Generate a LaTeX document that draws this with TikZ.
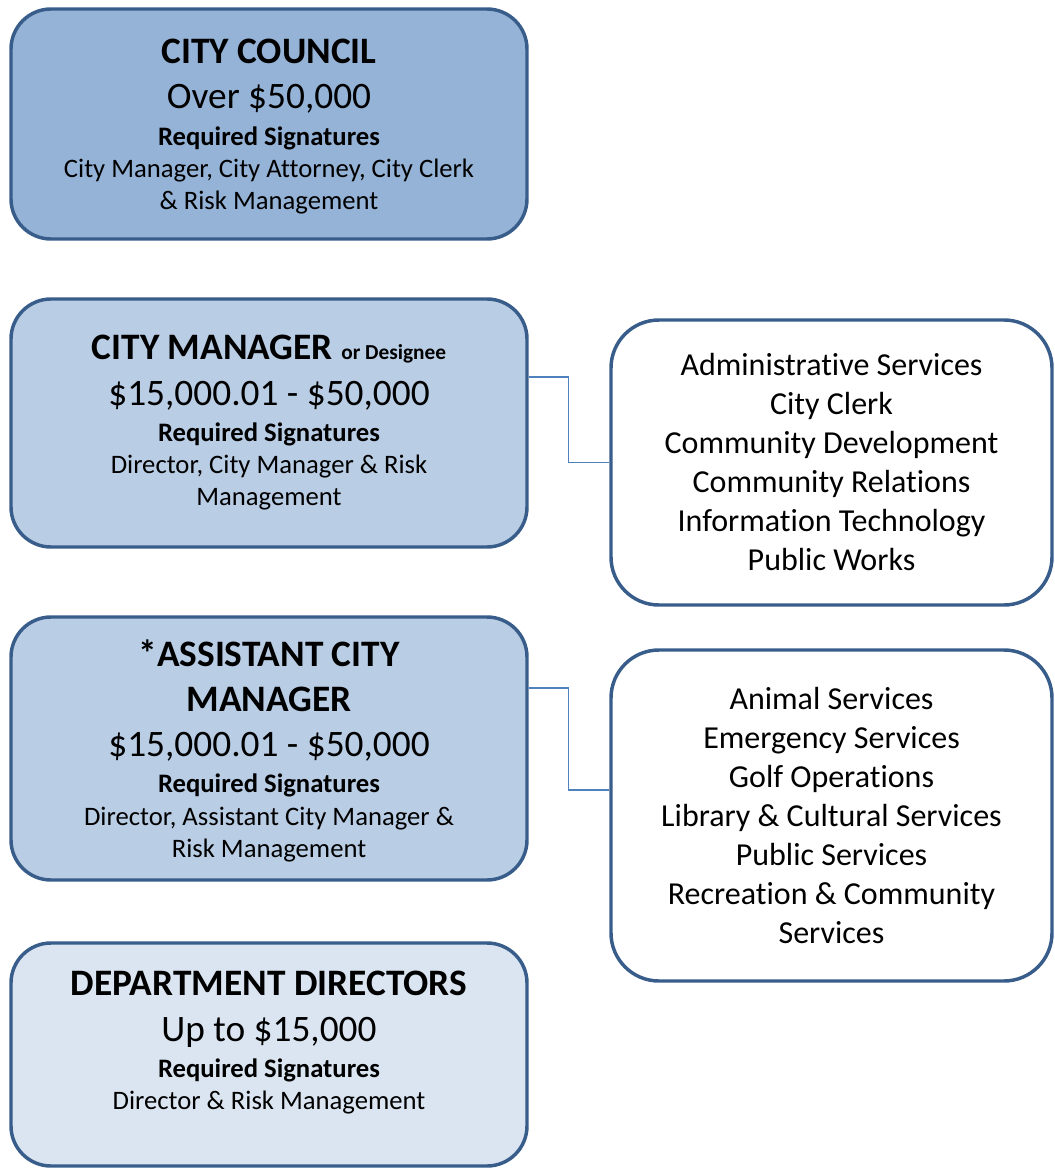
\documentclass[tikz,border=0pt]{standalone}
\usepackage{fontspec}
\setmainfont{Carlito}[Ligatures=NoCommon]
\usepackage{tikz}
\usetikzlibrary{positioning}
\definecolor{council}{RGB}{149,179,215}
\definecolor{manager}{RGB}{185,205,229}
\definecolor{director}{RGB}{219,229,241}
\definecolor{outline}{RGB}{56,93,138}
\definecolor{connector}{RGB}{79,129,189}
\tikzset{
    tierbox/.style={rectangle, rounded corners=30pt, minimum width=387pt, text centered, draw=outline, line width=2.6pt, align=center, font=\fontsize{20}{24}\selectfont},
    deptbox/.style={rectangle, rounded corners=36pt, minimum width=330.75pt, text centered, draw=outline, line width=2.6pt, fill=white, align=center, font=\fontsize{24}{29.25}\selectfont},
    link/.style={draw=connector, line width=1.1pt}
}

\begin{document}
\begin{tikzpicture}[x=0.75pt, y=-0.75pt]
    \useasboundingbox (0,0) rectangle (1055,1170);

    % Approval tiers
    \node[tierbox, fill=council, minimum height=172.5pt, text depth=-2pt] (council) at (269,124) {%
        {\fontsize{28}{34}\selectfont\bfseries CITY COUNCIL}\\[10pt]
        {\fontsize{28}{34}\selectfont Over \$50,000}\\[3.5pt]
        \textbf{Required Signatures}\\
        City Manager, City Attorney, City Clerk\\
        \& Risk Management%
    };
    \node[tierbox, fill=manager, minimum height=186pt] (cmgr) at (269,423) {%
        {\fontsize{28}{34}\selectfont\bfseries CITY MANAGER {\fontsize{16}{19}\selectfont or Designee}}\\[10pt]
        {\fontsize{28}{34}\selectfont \$15,000.01 - \$50,000}\\[3.5pt]
        \textbf{Required Signatures}\\
        Director, City Manager \& Risk\\
        Management%
    };
    \node[tierbox, fill=manager, minimum height=197.25pt, text depth=-2pt] (acm) at (269,748.5) {%
        {\fontsize{28}{34}\selectfont\bfseries *ASSISTANT CITY}\\[10pt]
        {\fontsize{28}{34}\selectfont\bfseries MANAGER}\\[10pt]
        {\fontsize{28}{34}\selectfont \$15,000.01 - \$50,000}\\[3pt]
        \textbf{Required Signatures}\\[0.75pt]
        Director, Assistant City Manager \&\\
        Risk Management%
    };
    \node[tierbox, fill=director, minimum height=167.25pt, text depth=21pt] (directors) at (269,1054.5) {%
        {\fontsize{28}{34}\selectfont\bfseries DEPARTMENT DIRECTORS}\\[10pt]
        {\fontsize{28}{34}\selectfont Up to \$15,000}\\[3.5pt]
        \textbf{Required Signatures}\\
        Director \& Risk Management%
    };

    % Departments
    \node[deptbox, minimum height=213.75pt] (cmgrdepts) at (831.5,462.5) {%
        Administrative Services\\
        City Clerk\\
        Community Development\\
        Community Relations\\
        Information Technology\\
        Public Works%
    };
    \node[deptbox, minimum height=248.25pt] (acmdepts) at (831.5,815.5) {%
        Animal Services\\
        Emergency Services\\
        Golf Operations\\
        Library \& Cultural Services\\
        Public Services\\
        Recreation \& Community\\
        Services%
    };

    % Connections
    \draw[link] ([yshift=34.5pt]cmgr.east) -- ++(30pt,0) |- (cmgrdepts.west);
    \draw[link] ([yshift=45.4pt]acm.east) -- ++(30pt,0) |- ([yshift=19.1pt]acmdepts.west);
\end{tikzpicture}
\end{document}
